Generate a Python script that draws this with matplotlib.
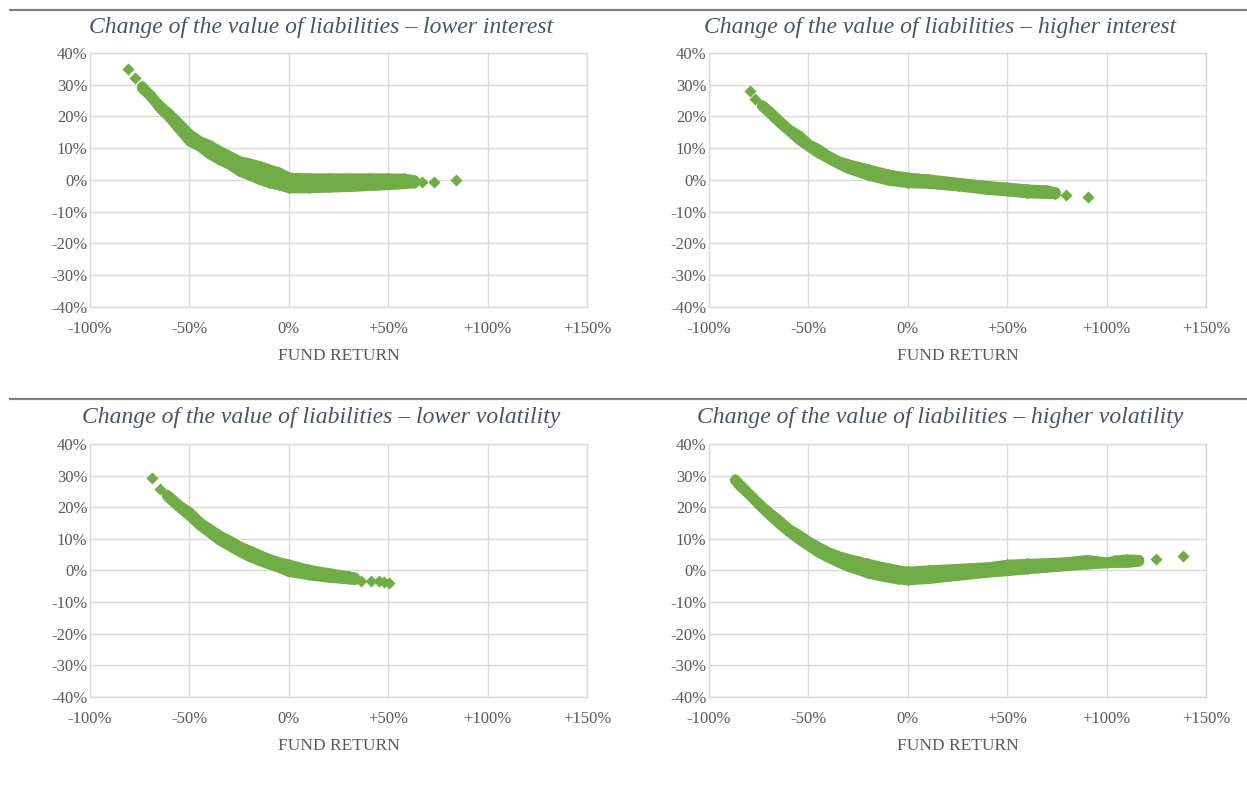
import matplotlib
matplotlib.use("Agg")
import matplotlib.pyplot as plt
from matplotlib.lines import Line2D
from matplotlib.ticker import FuncFormatter

# -----------------------------
# Data (fund return %, change of liabilities %)
# band = dense cloud of simulated scenarios, upper/lower rows of the cloud
# tail = isolated scenarios at both ends
# -----------------------------
low_int_x = [-74, -70, -65, -60, -55, -50, -45, -40, -35, -30, -25, -20, -15, -10, -5, 0, 10, 20, 30, 40, 50, 58, 63]
low_int_up = [29.5, 26.8, 23.4, 20.7, 17.6, 14.4, 12.3, 11.0, 9.2, 7.6, 6.0, 5.3, 4.5, 3.4, 2.4, 0.8, 0.6, 0.6, 0.6, 0.6, 0.6, 0.5, 0.0]
low_int_lo = [29.0, 26.8, 22.8, 19.7, 16.0, 12.3, 10.7, 8.3, 6.5, 5.0, 2.9, 1.6, 0.3, -0.8, -1.5, -2.4, -2.4, -2.2, -2.0, -1.7, -1.4, -1.1, -0.8]
low_int_tail_x = [-81, -77.5, 67, 73, 84]
low_int_tail_y = [35.0, 32.0, -0.5, -0.7, 0.0]

high_int_x = [-73.5, -70, -65, -60, -55, -50, -45, -40, -35, -30, -20, -10, 0, 10, 25, 40, 50, 60, 70, 74]
high_int_up = [23.6, 21.8, 18.8, 16.0, 14.1, 11.3, 9.7, 7.6, 6.0, 5.0, 3.4, 1.8, 0.8, 0.3, -0.8, -1.8, -2.3, -2.9, -3.2, -3.8]
high_int_lo = [23.4, 21.4, 18.4, 15.7, 12.9, 10.7, 8.6, 6.9, 5.2, 3.7, 1.6, 0.0, -0.8, -1.0, -1.8, -2.9, -3.4, -4.0, -4.2, -4.3]
high_int_tail_x = [-79.4, -77, 79.4, 90.5]
high_int_tail_y = [28.0, 25.5, -4.8, -5.5]

low_vol_x = [-61.5, -60, -55, -50, -45, -40, -35, -30, -25, -20, -15, -10, -5, 0, 10, 20, 30, 33]
low_vol_up = [24.0, 23.2, 20.5, 18.4, 15.3, 13.2, 11.1, 9.5, 7.7, 6.4, 5.0, 3.7, 2.7, 1.9, 0.3, -0.8, -1.8, -2.2]
low_vol_lo = [23.8, 22.8, 20.0, 17.4, 14.5, 12.1, 9.7, 7.9, 6.1, 4.5, 3.2, 2.1, 1.0, -0.3, -1.3, -2.1, -2.6, -2.8]
low_vol_tail_x = [-69, -64.8, 36.5, 41.5, 45.5, 48, 50.5]
low_vol_tail_y = [29.2, 25.8, -3.2, -3.4, -3.4, -3.8, -4.1]

high_vol_x = [-87, -85, -80, -75, -70, -65, -60, -55, -50, -45, -40, -35, -30, -25, -20, -15, -10, -5, 0,
              10, 25, 40, 50, 60, 70, 80, 90, 100, 104, 110, 116]
high_vol_up = [28.8, 27.4, 24.2, 21.1, 18.4, 15.9, 13.2, 11.3, 9.2, 7.4, 5.8, 4.6, 3.7, 2.9, 2.2, 1.4, 0.8, 0.1, -0.3,
               0.1, 0.6, 1.1, 1.9, 2.2, 2.4, 2.7, 3.4, 2.6, 3.2, 3.6, 3.4]
high_vol_lo = [28.6, 27.1, 24.2, 20.9, 17.9, 15.0, 12.4, 10.0, 7.9, 5.8, 4.2, 2.7, 1.3, 0.3, -0.8, -1.5, -2.1, -2.6, -2.9,
               -2.5, -1.5, -0.5, 0.0, 0.6, 1.1, 1.6, 2.1, 2.5, 2.6, 2.6, 3.0]
high_vol_tail_x = [124.6, 138.3]
high_vol_tail_y = [3.5, 4.5]

titles = [
    "Change of the value of liabilities \u2013 lower interest",
    "Change of the value of liabilities \u2013 higher interest",
    "Change of the value of liabilities \u2013 lower volatility",
    "Change of the value of liabilities \u2013 higher volatility",
]
x_ticks = [-100, -50, 0, 50, 100, 150]
y_ticks = [-40, -30, -20, -10, 0, 10, 20, 30, 40]

panels = [
    (low_int_x, low_int_up, low_int_lo, low_int_tail_x, low_int_tail_y),
    (high_int_x, high_int_up, high_int_lo, high_int_tail_x, high_int_tail_y),
    (low_vol_x, low_vol_up, low_vol_lo, low_vol_tail_x, low_vol_tail_y),
    (high_vol_x, high_vol_up, high_vol_lo, high_vol_tail_x, high_vol_tail_y),
]

# -----------------------------
# Style
# -----------------------------
GREEN = "#70AD47"
GRID = "#D9D9D9"
TEXT = "#595959"
TITLE = "#44546A"
plt.rcParams["font.family"] = ["Liberation Serif", "DejaVu Serif"]

fig = plt.figure(figsize=(12.47, 8.0), dpi=100)

# axes boxes [left, bottom, width, height] and title centres
boxes = [
    [0.0722, 0.6163, 0.3986, 0.3175],
    [0.5686, 0.6163, 0.3986, 0.3175],
    [0.0722, 0.1288, 0.3986, 0.3163],
    [0.5686, 0.1288, 0.3986, 0.3163],
]
title_pos = [(0.2575, 0.966), (0.7540, 0.966), (0.2575, 0.4785), (0.7540, 0.4785)]


def pct_x(v, pos):
    if v > 0:
        return f"+{v:.0f}%"
    return f"{v:.0f}%"


def pct_y(v, pos):
    return f"{v:.0f}%"


for box, (bx, bup, blo, tx, ty), title, tpos in zip(boxes, panels, titles, title_pos):
    ax = fig.add_axes(box)
    ax.set_xlim(-100, 150)
    ax.set_ylim(-40, 40)
    ax.set_xticks(x_ticks)
    ax.set_yticks(y_ticks)
    ax.xaxis.set_major_formatter(FuncFormatter(pct_x))
    ax.yaxis.set_major_formatter(FuncFormatter(pct_y))
    ax.grid(True, color=GRID, linewidth=1.0)
    ax.set_axisbelow(True)
    for sp in ax.spines.values():
        sp.set_color(GRID)
        sp.set_linewidth(1.0)
    ax.tick_params(length=0, labelsize=12, labelcolor=TEXT)
    ax.tick_params(axis="x", pad=10)
    ax.tick_params(axis="y", pad=2)

    # dense part of the cloud
    ax.fill_between(bx, blo, bup, facecolor=GREEN, edgecolor=GREEN,
                    linewidth=7.5, joinstyle="round", zorder=3)
    ax.scatter(bx, bup, marker="D", s=34, color=GREEN, linewidths=0, zorder=4)
    ax.scatter(bx, blo, marker="D", s=34, color=GREEN, linewidths=0, zorder=4)
    # isolated scenarios
    ax.scatter(tx, ty, marker="D", s=38, color=GREEN, linewidths=0, zorder=4)

    ax.set_xlabel("FUND RETURN", fontsize=12.5, color=TEXT, labelpad=8)
    fig.text(tpos[0], tpos[1], title, ha="center", va="center",
             fontsize=17, style="italic", color=TITLE)

# separator rules above each row of charts
for y in (1 - 10 / 800, 1 - 399 / 800):
    fig.add_artist(Line2D([10 / 1247, 1.0], [y, y], color="#808080", linewidth=1.6))

fig.savefig("out.png", dpi=100, facecolor="white")
